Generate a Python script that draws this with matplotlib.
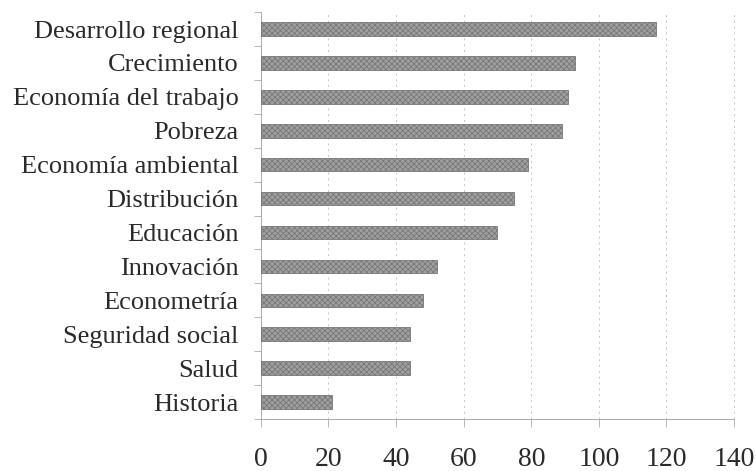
import matplotlib
matplotlib.use("Agg")
import matplotlib.pyplot as plt
import numpy as np
from matplotlib.ticker import FixedLocator

categories = ["Desarrollo regional", "Crecimiento", "Economía del trabajo", "Pobreza",
              "Economía ambiental", "Distribución", "Educación", "Innovación",
              "Econometría", "Seguridad social", "Salud", "Historia"]
values = [117, 93, 91, 89, 79, 75, 70, 52, 48, 44, 44, 21]
xticks = [0, 20, 40, 60, 80, 100, 120, 140]

plt.rcParams['font.family'] = ['Liberation Serif', 'DejaVu Serif']
plt.rcParams['hatch.color'] = '#6a6a6a'
plt.rcParams['hatch.linewidth'] = 0.6

fig = plt.figure(figsize=(7.56, 4.71), dpi=100)
ax = fig.add_axes([0.345, 0.1104, 0.626, 0.864])

y = np.arange(len(categories))
ax.barh(y, values, height=0.4, color='#a0a0a0', edgecolor='#777777',
        linewidth=0.6, hatch='xxxxxx', zorder=3)

ax.set_ylim(len(categories) - 0.5, -0.5)
ax.set_xlim(0, 140)
ax.set_yticks(y)
ax.set_yticklabels(categories, fontsize=19, color='#2a2a2a')
ax.yaxis.set_minor_locator(FixedLocator(np.arange(-0.5, len(categories), 1.0)))
ax.tick_params(axis='y', which='major', length=0, pad=16)
ax.tick_params(axis='y', which='minor', length=5, width=0.6, color='#aaaaaa')

ax.set_xticks(xticks)
ax.set_xticklabels([str(v) for v in xticks], fontsize=20, color='#2a2a2a')
ax.tick_params(axis='x', which='major', length=6, width=0.6, color='#aaaaaa',
               direction='out', pad=14)

ax.grid(axis='x', linestyle=(0, (2, 4)), color='#c4c4c4', linewidth=0.7, zorder=0)
for s in ['top', 'right']:
    ax.spines[s].set_visible(False)
for s in ['left', 'bottom']:
    ax.spines[s].set_color('#aaaaaa')
    ax.spines[s].set_linewidth(0.7)
ax.axvline(140, linestyle=(0, (2, 4)), color='#c4c4c4', linewidth=0.7, clip_on=False)

fig.savefig('out.png', dpi=100)
